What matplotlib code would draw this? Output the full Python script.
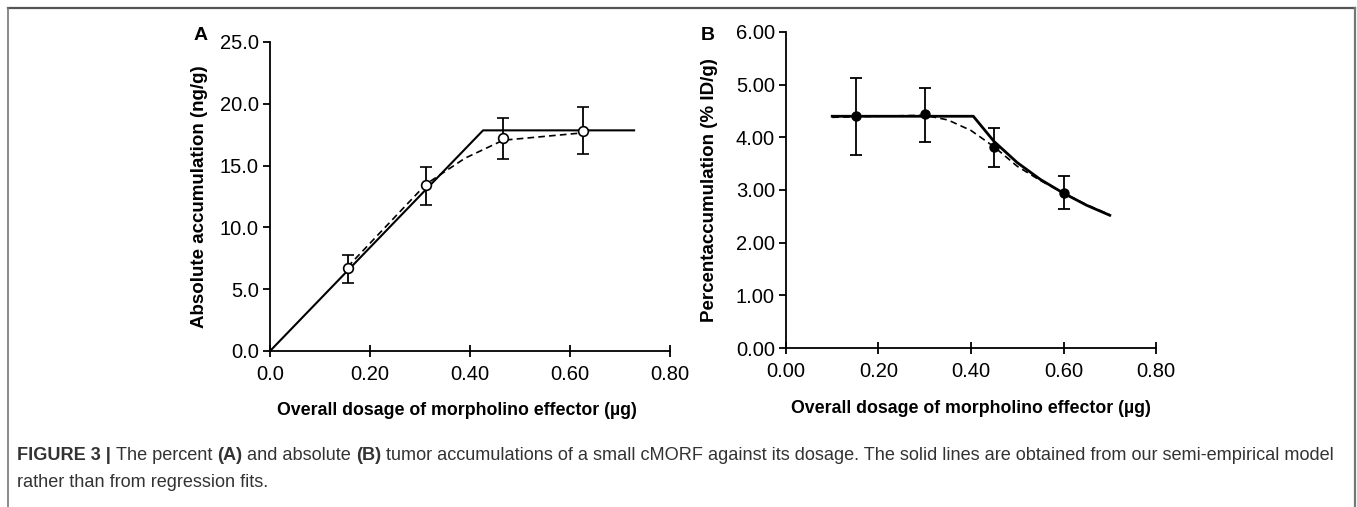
import numpy as np
import matplotlib.pyplot as plt
from matplotlib.lines import Line2D

plt.rcParams['font.family'] = ['Liberation Sans', 'DejaVu Sans']

# panel A - absolute accumulation
a_dose = [0.155, 0.312, 0.466, 0.626]
a_acc = [6.7, 13.4, 17.2, 17.8]
a_err_hi = [7.75, 14.9, 18.85, 19.7]
a_err_lo = [5.5, 11.8, 15.5, 15.9]
a_model_x = [0.0, 0.426, 0.728]
a_model_y = [0.0, 17.85, 17.85]
a_fit_x = [0.155, 0.312, 0.39, 0.466, 0.626]
a_fit_y = [6.8, 13.5, 15.6, 17.05, 17.65]

# panel B - percent accumulation
b_dose = [0.151, 0.30, 0.45, 0.60]
b_acc = [4.40, 4.44, 3.82, 2.94]
b_err_hi = [5.12, 4.93, 4.17, 3.26]
b_err_lo = [3.66, 3.91, 3.43, 2.64]
b_model_x = [0.10, 0.405, 0.45, 0.50, 0.55, 0.60, 0.65, 0.70]
b_model_y = [4.40, 4.40, 3.92, 3.52, 3.20, 2.94, 2.71, 2.52]
b_fit_x = [0.10, 0.30, 0.35, 0.40, 0.45, 0.50, 0.55, 0.60, 0.65, 0.70]
b_fit_y = [4.38, 4.42, 4.33, 4.13, 3.82, 3.45, 3.18, 2.94, 2.72, 2.53]

a_xticks = [0.0, 0.2, 0.4, 0.6, 0.8]
a_xlabels = ['0.0', '0.20', '0.40', '0.60', '0.80']
a_yticks = [0, 5, 10, 15, 20, 25]
a_ylabels = ['0.0', '5.0', '10.0', '15.0', '20.0', '25.0']
b_xticks = [0.0, 0.2, 0.4, 0.6, 0.8]
b_xlabels = ['0.00', '0.20', '0.40', '0.60', '0.80']
b_yticks = [0, 1, 2, 3, 4, 5, 6]
b_ylabels = ['0.00', '1.00', '2.00', '3.00', '4.00', '5.00', '6.00']

xlabel = 'Overall dosage of morpholino effector (µg)'

fig = plt.figure(figsize=(13.57, 5.07), dpi=100)

axA = fig.add_axes([0.199, 0.3077, 0.2948, 0.6095])
axB = fig.add_axes([0.5792, 0.3136, 0.2727, 0.6233])


def style(ax, xt, xl, yt, yl, ymax):
    for s in ['top', 'right']:
        ax.spines[s].set_visible(False)
    for s in ['left', 'bottom']:
        ax.spines[s].set_linewidth(1.3)
    ax.set_xlim(0, 0.8)
    ax.set_ylim(0, ymax)
    ax.set_xticks(xt)
    ax.set_xticklabels(xl)
    ax.set_yticks(yt)
    ax.set_yticklabels(yl)
    ax.tick_params(axis='x', direction='inout', length=8, width=1.3, labelsize=14.5, pad=6)
    ax.tick_params(axis='y', direction='out', length=5, width=1.3, labelsize=14.5, pad=3)
    ax.patch.set_alpha(0)


style(axA, a_xticks, a_xlabels, a_yticks, a_ylabels, 25)
style(axB, b_xticks, b_xlabels, b_yticks, b_ylabels, 6)

# A
axA.plot(a_model_x, a_model_y, color='black', lw=1.5, clip_on=False)
axA.plot(a_fit_x, a_fit_y, color='black', lw=1.2, ls=(0, (4, 2.5)))
a_err = [np.array(a_acc) - np.array(a_err_lo), np.array(a_err_hi) - np.array(a_acc)]
axA.errorbar(a_dose, a_acc, yerr=a_err, fmt='o', mfc='white', mec='black', mew=1.2,
             ms=7, ecolor='black', elinewidth=1.3, capsize=4, capthick=1.3, color='black')
axA.set_ylabel('Absolute accumulation (ng/g)', fontsize=13.5, fontweight='bold')
axA.set_xlabel(xlabel, fontsize=12.8, fontweight='bold')
axA.yaxis.set_label_coords(-0.155, 0.5)
axA.xaxis.set_label_coords(0.468, -0.165)

# B
axB.plot(b_model_x, b_model_y, color='black', lw=2.0)
axB.plot(b_fit_x, b_fit_y, color='black', lw=1.2, ls=(0, (4, 2.5)))
b_err = [np.array(b_acc) - np.array(b_err_lo), np.array(b_err_hi) - np.array(b_acc)]
axB.errorbar(b_dose, b_acc, yerr=b_err, fmt='o', mfc='black', mec='black',
             ms=6.5, ecolor='black', elinewidth=1.3, capsize=4, capthick=1.3, color='black')
axB.set_ylabel('Percentaccumulation (% ID/g)', fontsize=13.5, fontweight='bold')
axB.set_xlabel(xlabel, fontsize=12.8, fontweight='bold')
axB.yaxis.set_label_coords(-0.185, 0.5)
axB.xaxis.set_label_coords(0.5, -0.165)

fig.text(201 / 1357, 1 - 35 / 507, 'A', fontsize=14, fontweight='bold', ha='center', va='center')
fig.text(708 / 1357, 1 - 36 / 507, 'B', fontsize=14, fontweight='bold', ha='center', va='center')

# frame round the figure
W, H = 1357, 507
fig.add_artist(Line2D([8 / W, 1355 / W], [1 - 8 / H, 1 - 8 / H], transform=fig.transFigure,
                      color='#555555', lw=1.6))
fig.add_artist(Line2D([8 / W, 8 / W], [0, 1 - 8 / H], transform=fig.transFigure,
                      color='#777777', lw=1.2))
fig.add_artist(Line2D([1355 / W, 1355 / W], [0, 1 - 8 / H], transform=fig.transFigure,
                      color='#777777', lw=1.6))

# caption with bold parts
cap1 = [('FIGURE 3 | ', 'bold'), ('The percent ', 'normal'), ('(A)', 'bold'),
        (' and absolute ', 'normal'), ('(B)', 'bold'),
        (' tumor accumulations of a small cMORF against its dosage. The solid lines are obtained '
         'from our semi-empirical model', 'normal')]
cap2 = [('rather than from regression fits.', 'normal')]

fig.canvas.draw()
renderer = fig.canvas.get_renderer()


def put_line(parts, x0, y0):
    x = x0
    for txt, wt in parts:
        t = fig.text(x / W, 1 - y0 / H, txt, fontsize=13.05, fontweight=wt, color='#333333',
                     va='baseline', ha='left')
        bb = t.get_window_extent(renderer=renderer)
        x += bb.width


put_line(cap1, 17, 460)
put_line(cap2, 17, 487)

fig.savefig('out.png', dpi=100)
